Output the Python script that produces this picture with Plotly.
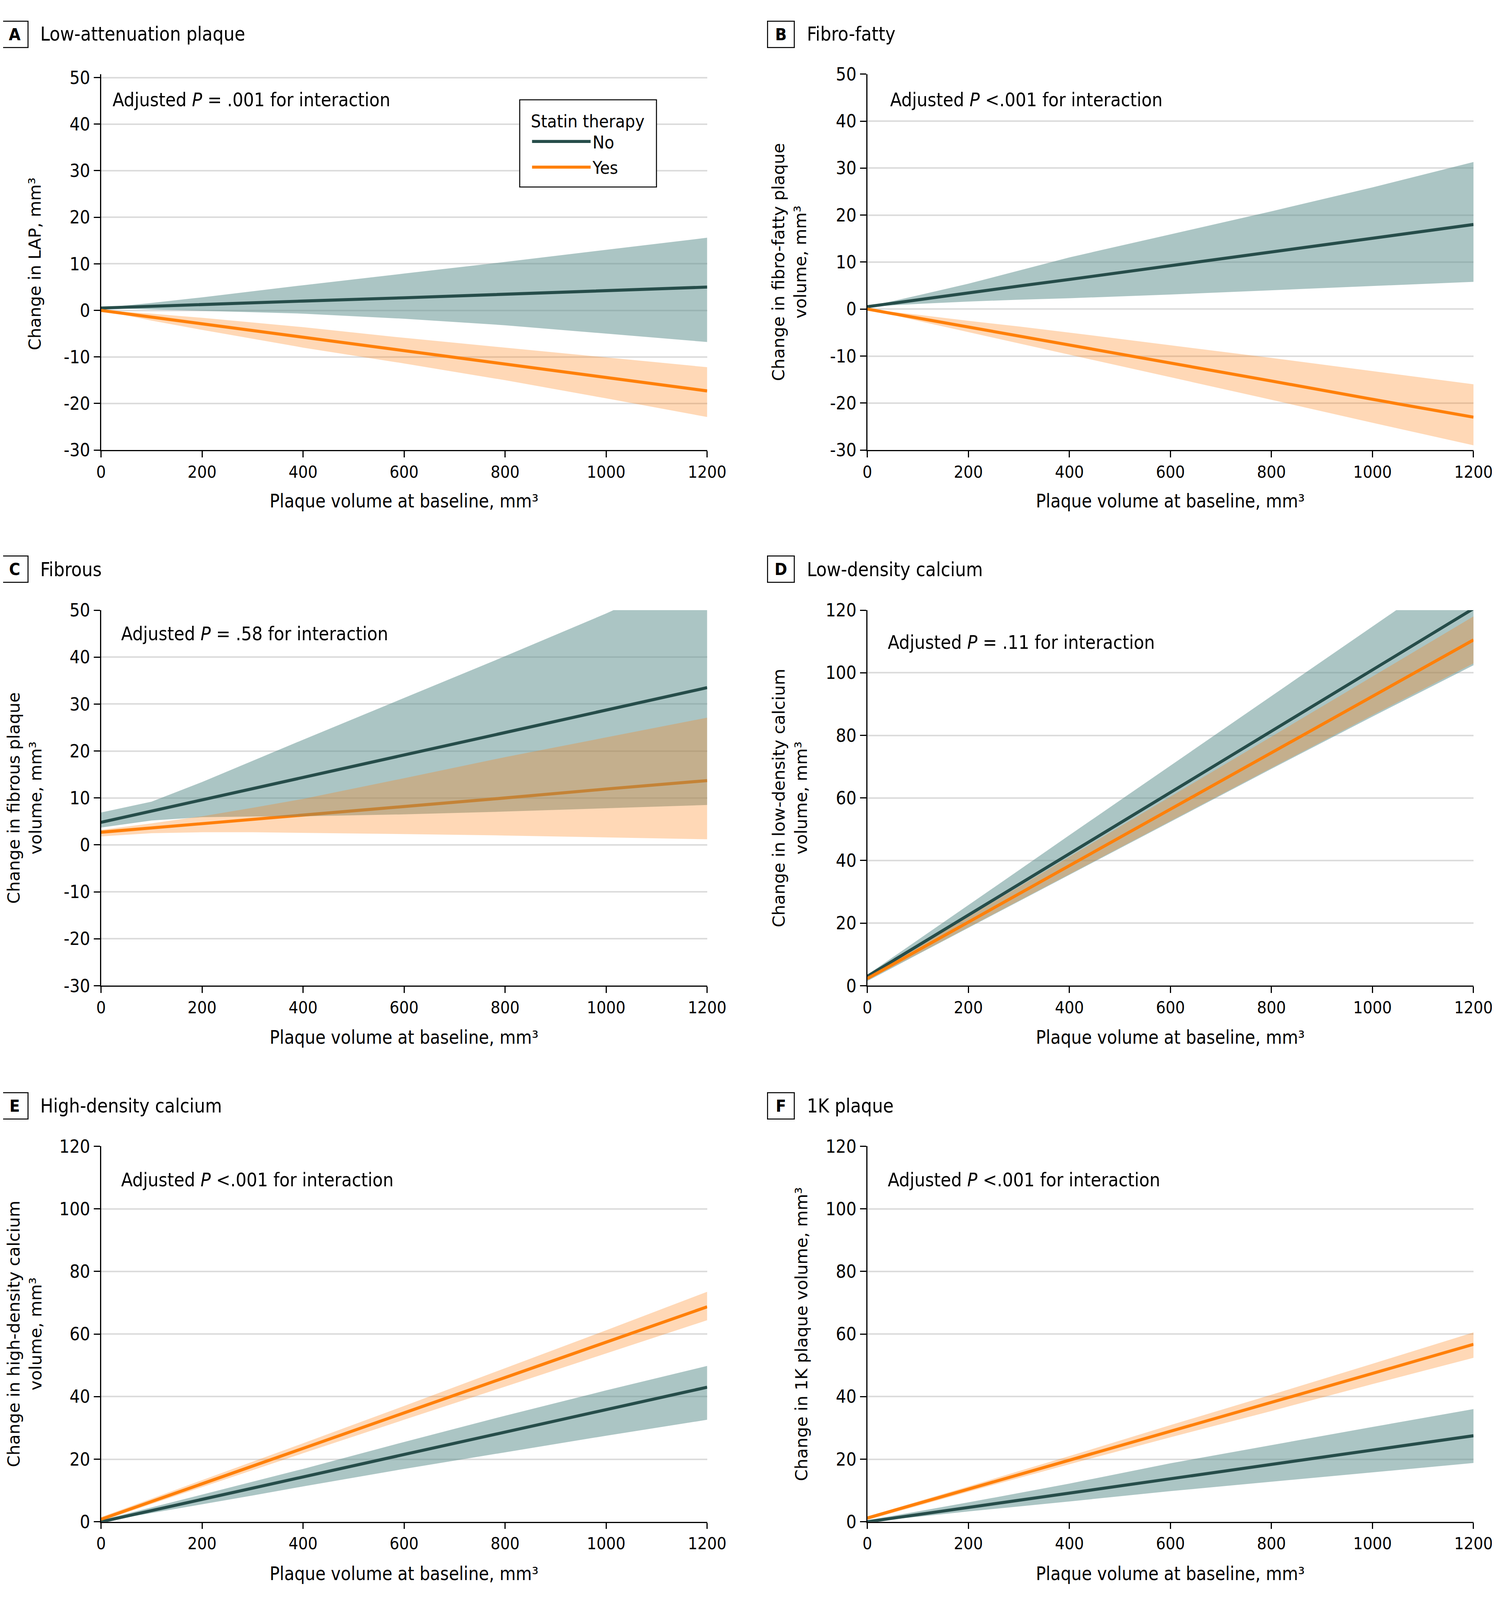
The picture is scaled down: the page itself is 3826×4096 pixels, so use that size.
import plotly.graph_objects as go

# ---------------- data ----------------
x_base = [0, 100, 200, 300, 400, 600, 800, 1000, 1200]
x_ticks = [0, 200, 400, 600, 800, 1000, 1200]
x_ticktext = ["0", "200", "400", "600", "800", "1000", "1200"]
y_ticks_ac = [-30, -20, -10, 0, 10, 20, 30, 40, 50]
y_ticktext_ac = ["-30", "-20", "-10", "0", "10", "20", "30", "40", "50"]
y_ticks_df = [0, 20, 40, 60, 80, 100, 120]
y_ticktext_df = ["0", "20", "40", "60", "80", "100", "120"]

series_names = ["No", "Yes"]
legend_title = "Statin therapy"

# A Low-attenuation plaque
A_no = [0.5, 0.9, 1.2, 1.6, 2.0, 2.7, 3.5, 4.3, 5.0]
A_no_hi = [0.5, 1.6, 2.8, 4.1, 5.4, 7.9, 10.4, 13.0, 15.6]
A_no_lo = [0.5, 0.2, -0.1, -0.4, -0.7, -1.8, -3.2, -5.0, -6.8]
A_yes = [0.0, -1.45, -2.9, -4.3, -5.8, -8.6, -11.5, -14.4, -17.3]
A_yes_hi = [0.0, -0.7, -1.6, -2.6, -3.6, -5.9, -8.0, -10.1, -12.2]
A_yes_lo = [0.0, -2.2, -4.2, -6.1, -8.0, -11.4, -15.0, -18.9, -22.9]

# B Fibro-fatty
B_no = [0.5, 2.0, 3.4, 4.9, 6.3, 9.2, 12.1, 15.1, 18.0]
B_no_hi = [0.5, 2.9, 5.4, 8.2, 11.0, 15.9, 20.8, 25.9, 31.3]
B_no_lo = [0.5, 1.1, 1.6, 2.0, 2.3, 3.1, 4.0, 4.9, 5.8]
B_yes = [0.0, -1.9, -3.8, -5.75, -7.7, -11.5, -15.3, -19.2, -23.0]
B_yes_hi = [0.0, -1.2, -2.5, -3.7, -5.0, -7.7, -10.4, -13.2, -16.0]
B_yes_lo = [0.0, -2.5, -4.9, -7.3, -9.7, -14.5, -19.3, -24.2, -29.0]

# C Fibrous
C_no = [4.8, 7.2, 9.6, 12.0, 14.4, 19.1, 23.9, 28.7, 33.5]
C_no_hi = [6.9, 9.2, 13.4, 17.9, 22.4, 31.3, 40.2, 49.3, 59.0]
C_no_lo = [3.7, 5.2, 5.9, 6.05, 6.1, 6.5, 7.1, 7.8, 8.5]
C_yes = [2.7, 3.6, 4.5, 5.4, 6.4, 8.2, 10.0, 11.9, 13.7]
C_yes_hi = [3.2, 4.6, 6.1, 7.9, 9.8, 14.2, 18.7, 22.9, 27.1]
C_yes_lo = [1.8, 2.5, 2.7, 2.7, 2.6, 2.3, 2.0, 1.6, 1.2]

# D Low-density calcium
D_no = [3.0, 12.8, 22.6, 32.4, 42.2, 61.8, 81.3, 100.9, 120.5]
D_no_hi = [3.5, 14.6, 25.8, 36.9, 48.1, 70.3, 92.5, 114.8, 137.0]
D_no_lo = [1.5, 10.0, 18.5, 27.0, 35.5, 52.4, 69.3, 86.0, 102.4]
D_yes = [2.3, 11.3, 20.3, 29.3, 38.4, 56.4, 74.4, 92.5, 110.5]
D_yes_hi = [2.8, 12.4, 22.0, 31.6, 41.2, 60.4, 79.6, 98.8, 118.0]
D_yes_lo = [1.8, 10.2, 18.7, 27.2, 35.7, 52.6, 69.6, 86.5, 103.0]

# E High-density calcium
E_no = [0.0, 3.6, 7.2, 10.8, 14.3, 21.5, 28.7, 35.8, 43.0]
E_no_hi = [0.5, 4.6, 8.7, 12.8, 16.9, 25.5, 33.9, 42.0, 49.8]
E_no_lo = [0.0, 2.8, 5.6, 8.4, 11.3, 16.9, 22.2, 27.5, 32.6]
E_yes = [0.8, 6.5, 12.2, 17.8, 23.5, 34.8, 46.1, 57.4, 68.7]
E_yes_hi = [1.5, 7.4, 13.3, 19.2, 25.1, 37.0, 49.1, 61.2, 73.5]
E_yes_lo = [0.2, 5.7, 11.1, 16.5, 21.9, 32.6, 43.2, 53.8, 64.4]

# F 1K plaque
F_no = [0.0, 2.3, 4.6, 6.9, 9.2, 13.7, 18.3, 22.9, 27.5]
F_no_hi = [0.5, 3.3, 6.2, 9.2, 12.2, 18.7, 24.5, 30.3, 36.0]
F_no_lo = [0.0, 1.6, 3.3, 4.9, 6.5, 9.8, 12.8, 15.8, 18.8]
F_yes = [1.2, 5.8, 10.4, 15.1, 19.6, 28.9, 38.0, 47.4, 56.7]
F_yes_hi = [1.7, 6.5, 11.3, 16.2, 21.0, 30.9, 40.6, 50.5, 60.5]
F_yes_lo = [0.6, 5.1, 9.6, 14.0, 18.4, 27.0, 35.4, 44.0, 52.4]

panel_letters = ["A", "B", "C", "D", "E", "F"]
panel_titles = ["Low-attenuation plaque", "Fibro-fatty", "Fibrous",
                "Low-density calcium", "High-density calcium", "1K plaque"]
p_texts = ["Adjusted <i>P</i> = .001 for interaction",
           "Adjusted <i>P</i> &lt;.001 for interaction",
           "Adjusted <i>P</i> = .58 for interaction",
           "Adjusted <i>P</i> = .11 for interaction",
           "Adjusted <i>P</i> &lt;.001 for interaction",
           "Adjusted <i>P</i> &lt;.001 for interaction"]
y_titles = ["Change in LAP, mm³",
            "Change in fibro-fatty plaque<br>volume, mm³",
            "Change in fibrous plaque<br>volume, mm³",
            "Change in low-density calcium<br>volume, mm³",
            "Change in high-density calcium<br>volume, mm³",
            "Change in 1K plaque volume, mm³"]
x_title = "Plaque volume at baseline, mm³"

# ---------------- layout geometry (reference pixel coords) ----------------
W_REF, H_REF = 3892, 4167
S = 3826 / W_REF          # reference -> window scale
OFF = 8                   # page body margin (px) that offsets the figure
W, H = 3826 - OFF, 4096 - 2 * OFF - 12


def px(v):
    return (v * S - OFF) / W


def py(v):
    return 1 - (v * S - OFF) / H


COND = "DejaVu Sans Condensed, Liberation Sans Narrow, DejaVu Sans, sans-serif"
WIDE = "DejaVu Sans, Verdana, sans-serif"

TEAL = "#264d4a"
TEAL_BAND = "rgba(88,140,138,0.5)"
ORANGE = "#ff800a"
ORANGE_BAND = "rgba(255,127,14,0.3)"

cols = [(263, 1841), (2258, 3836)]
rows = [(193, 1172), (1589, 2567), (2985, 3963)]
y_ranges = [[-30, 50.74], [-30, 50], [-30, 50], [0, 120], [0, 120], [0, 120]]

panel_data = [
    (A_no, A_no_hi, A_no_lo, A_yes, A_yes_hi, A_yes_lo),
    (B_no, B_no_hi, B_no_lo, B_yes, B_yes_hi, B_yes_lo),
    (C_no, C_no_hi, C_no_lo, C_yes, C_yes_hi, C_yes_lo),
    (D_no, D_no_hi, D_no_lo, D_yes, D_yes_hi, D_yes_lo),
    (E_no, E_no_hi, E_no_lo, E_yes, E_yes_hi, E_yes_lo),
    (F_no, F_no_hi, F_no_lo, F_yes, F_yes_hi, F_yes_lo),
]

# text positions (reference px)
letter_box_top = [54, 54, 1447, 1447, 2844, 2844]
letter_box_left = [2, 1997, 2, 1997, 2, 1997]
title_left = [103, 2099, 103, 2099, 103, 2099]
title_cy = [89, 89, 1483, 1483, 2880, 2880]
ptext_pos = [(291, 259), (2315, 259), (313, 1650), (2309, 1672), (313, 3072), (2309, 3072)]
ytitle_pos = [(91, 687), (2055, 683), (64, 2078), (2056, 2078), (64, 3474), (2086, 3474)]
xtitle_cy = [1305, 1305, 2701, 2701, 4098, 4098]

fig = go.Figure()
annotations = []

for i in range(6):
    r, c = i // 2, i % 2
    k = "" if i == 0 else str(i + 1)
    xa, ya = "x" + k, "y" + k
    no, no_hi, no_lo, yes, yes_hi, yes_lo = panel_data[i]
    xs = x_base
    band_no = go.Scatter(x=xs + xs[::-1], y=no_hi + no_lo[::-1], fill="toself",
                         fillcolor=TEAL_BAND, line=dict(width=0), mode="lines",
                         hoverinfo="skip", showlegend=False, xaxis=xa, yaxis=ya)
    band_yes = go.Scatter(x=xs + xs[::-1], y=yes_hi + yes_lo[::-1], fill="toself",
                          fillcolor=ORANGE_BAND, line=dict(width=0), mode="lines",
                          hoverinfo="skip", showlegend=False, xaxis=xa, yaxis=ya)
    line_no = go.Scatter(x=xs, y=no, mode="lines", name=series_names[0],
                         legendgroup="no",
                         line=dict(color=TEAL, width=8 * S),
                         showlegend=(i == 0), xaxis=xa, yaxis=ya)
    line_yes = go.Scatter(x=xs, y=yes, mode="lines", name=series_names[1],
                          legendgroup="yes",
                          line=dict(color=ORANGE, width=8 * S),
                          showlegend=(i == 0), xaxis=xa, yaxis=ya)
    if i == 2:
        order = [line_yes, band_no, band_yes, line_no]
    else:
        order = [band_no, band_yes, line_no, line_yes]
    for t in order:
        fig.add_trace(t)

    x0, x1 = cols[c]
    y0, y1 = rows[r]
    yt = y_ticks_ac if i in (0, 1, 2) else y_ticks_df
    ytt = y_ticktext_ac if i in (0, 1, 2) else y_ticktext_df
    fig.update_layout(**{
        "xaxis" + k: dict(domain=[px(x0), px(x1)], anchor=ya, range=[0, 1200],
                          tickvals=x_ticks, ticktext=x_ticktext, showgrid=False,
                          zeroline=False, showline=True, linecolor="black",
                          linewidth=2.6 * S, ticks="outside", ticklen=16 * S,
                          tickwidth=2.6 * S, tickcolor="black", automargin=False,
                          tickfont=dict(family=COND, size=44 * S, color="black"),
                          fixedrange=True),
        "yaxis" + k: dict(domain=[py(y1), py(y0)], anchor=xa, range=y_ranges[i],
                          tickvals=yt, ticktext=ytt, showgrid=True,
                          gridcolor="#dcdcdc", gridwidth=4 * S, zeroline=False,
                          showline=True, linecolor="black", linewidth=2.6 * S,
                          ticks="outside", ticklen=16 * S, tickwidth=2.6 * S,
                          tickcolor="black", automargin=False,
                          tickfont=dict(family=COND, size=47 * S, color="black"),
                          fixedrange=True),
    })

    # panel letter box
    annotations.append(dict(
        text=panel_letters[i], xref="paper", yref="paper",
        x=px(letter_box_left[i]), y=py(letter_box_top[i]), xanchor="left", yanchor="top",
        width=67 * S, height=66 * S, borderwidth=2.6 * S, bordercolor="black", borderpad=0,
        showarrow=False, align="center", valign="middle",
        font=dict(family=COND, size=44 * S, color="black", weight="bold")))
    # panel title
    annotations.append(dict(
        text=panel_titles[i], xref="paper", yref="paper",
        x=px(title_left[i]), y=py(title_cy[i]), xanchor="left", yanchor="middle",
        showarrow=False, font=dict(family=COND, size=50 * S, color="black")))
    # P text
    annotations.append(dict(
        text=p_texts[i], xref="paper", yref="paper",
        x=px(ptext_pos[i][0]), y=py(ptext_pos[i][1]), xanchor="left", yanchor="middle",
        showarrow=False, font=dict(family=COND, size=49 * S, color="black")))
    # y title
    annotations.append(dict(
        text=y_titles[i], xref="paper", yref="paper", textangle=-90,
        x=px(ytitle_pos[i][0]), y=py(ytitle_pos[i][1]), xanchor="center", yanchor="middle",
        showarrow=False, font=dict(family=WIDE, size=44 * S, color="black")))
    # x title
    annotations.append(dict(
        text=x_title, xref="paper", yref="paper",
        x=px((x0 + x1) / 2), y=py(xtitle_cy[i]), xanchor="center", yanchor="middle",
        showarrow=False, font=dict(family=COND, size=48 * S, color="black")))

# legend frame (box around the plotly legend)
shapes = [dict(type="rect", xref="paper", yref="paper",
               x0=px(1353), x1=px(1709), y0=py(487), y1=py(260),
               line=dict(color="black", width=2.6 * S), fillcolor="white", layer="above")]

fig.update_layout(
    width=W, height=H, margin=dict(l=0, r=0, t=0, b=0, autoexpand=False),
    paper_bgcolor="white", plot_bgcolor="white",
    annotations=annotations, shapes=shapes,
    legend=dict(x=px(1380), y=py(272), xanchor="left", yanchor="top",
                bgcolor="rgba(0,0,0,0)", borderwidth=0,
                font=dict(family=COND, size=46 * S, color="black"),
                title=dict(text=legend_title, font=dict(family=COND, size=46 * S, color="black")),
                itemwidth=150, tracegroupgap=4),
)

fig.write_html("out.html")
